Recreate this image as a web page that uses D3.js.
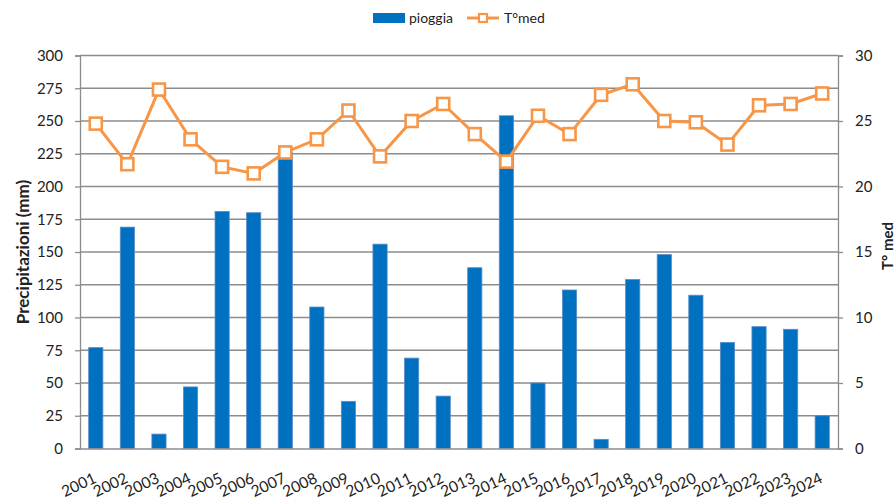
<!DOCTYPE html>
<html><head><meta charset="utf-8">
<script src="https://cdn.jsdelivr.net/npm/d3@7"></script>
<style>
body{margin:0;background:#fff;}
text{font-family:Lato,"Open Sans",sans-serif;fill:#222;}
</style></head>
<body><svg id="c" width="895" height="499"></svg>
<script>
const years = ["2001","2002","2003","2004","2005","2006","2007","2008","2009","2010","2011","2012","2013","2014","2015","2016","2017","2018","2019","2020","2021","2022","2023","2024"];
const pioggia = [77,169,11,47,181,180,226,108,36,156,69,40,138,254,50,121,7,129,148,117,81,93,91,25];
const tmed = [24.8,21.7,27.4,23.6,21.5,21.0,22.6,23.6,25.8,22.3,25.0,26.3,24.0,21.9,25.4,24.0,27.0,27.8,25.0,24.9,23.2,26.2,26.3,27.1];
const leftTicks = [0,25,50,75,100,125,150,175,200,225,250,275,300];
const rightTicks = [0,5,10,15,20,25,30];

const svg = d3.select("#c");
const L=80, R=838, T=55.5, B=448.5;
const x = d3.scaleBand().domain(years).range([L,R]).paddingInner(0.55).paddingOuter(0.275);
const yL = d3.scaleLinear().domain([0,300]).range([B,T]);
const yR = d3.scaleLinear().domain([0,30]).range([B,T]);
const grid="#8c8c8c";

// gridlines
svg.append("g").selectAll("line").data(leftTicks.filter(d=>d>0)).join("line")
  .attr("x1",L).attr("x2",R).attr("y1",d=>yL(d)).attr("y2",d=>yL(d))
  .attr("stroke",grid).attr("stroke-width",1.3);

// bars
svg.append("g").selectAll("rect").data(pioggia).join("rect")
  .attr("x",(d,i)=>x(years[i])).attr("width",x.bandwidth())
  .attr("y",d=>yL(d)).attr("height",d=>B-yL(d))
  .attr("fill","#0070C0").attr("stroke","#5b8cc6").attr("stroke-width",0.8);

// axes
const axL = svg.append("g").attr("transform",`translate(${L},0)`)
  .call(d3.axisLeft(yL).tickValues(leftTicks).tickSize(5).tickPadding(12));
const axR = svg.append("g").attr("transform",`translate(${R},0)`)
  .call(d3.axisRight(yR).tickValues(rightTicks).tickSize(5).tickPadding(12));
const axB = svg.append("g").attr("transform",`translate(0,${B})`)
  .call(d3.axisBottom(x).tickSize(0).tickPadding(0));
[axL,axR,axB].forEach(a=>{
  a.select(".domain").attr("stroke",grid).attr("stroke-width",1.3);
  a.selectAll(".tick line").attr("stroke",grid).attr("stroke-width",1.3);
  a.selectAll("text").style("font-size","15px").attr("fill","#222");
});
axB.selectAll(".tick text").attr("text-anchor","end").attr("x",0).attr("y",0).attr("dy",0)
  .attr("transform","translate(1.5,33.5) rotate(-25)").style("font-size","15.5px");

// line
const line = d3.line().x((d,i)=>x(years[i])+x.bandwidth()/2).y(d=>yR(d));
svg.append("path").datum(tmed).attr("d",line).attr("fill","none")
  .attr("stroke","#F79646").attr("stroke-width",3);
svg.append("g").selectAll("rect").data(tmed).join("rect")
  .attr("x",(d,i)=>x(years[i])+x.bandwidth()/2-6).attr("y",d=>yR(d)-6)
  .attr("width",12).attr("height",12).attr("fill","#fff")
  .attr("stroke","#F79646").attr("stroke-width",2.6);

// axis titles
svg.append("text").attr("transform",`translate(28.5,${(T+B)/2}) rotate(-90)`)
  .attr("text-anchor","middle").style("font-size","17px").style("font-weight","bold").text("Precipitazioni (mm)");
svg.append("text").attr("transform",`translate(888,246) rotate(-90)`)
  .attr("text-anchor","middle").attr("dy","0.35em").style("font-size","15px").style("font-weight","bold").text("T° med");

// legend
const lg = svg.append("g");
lg.append("rect").attr("x",373).attr("y",13).attr("width",32).attr("height",10).attr("fill","#0070C0");
lg.append("text").attr("x",409).attr("y",18).attr("dy","0.35em").style("font-size","14px").text("pioggia");
lg.append("line").attr("x1",467).attr("x2",499).attr("y1",18).attr("y2",18).attr("stroke","#F79646").attr("stroke-width",3);
lg.append("rect").attr("x",479).attr("y",14).attr("width",8).attr("height",8).attr("fill","#fff").attr("stroke","#F79646").attr("stroke-width",2.2);
lg.append("text").attr("x",504).attr("y",18).attr("dy","0.35em").style("font-size","14px").text("T°med");
</script></body></html>
